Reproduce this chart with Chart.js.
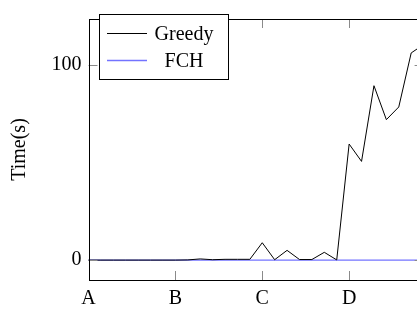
<!DOCTYPE html>
<html>
<head>
<meta charset="utf-8">
<script src="https://cdn.jsdelivr.net/npm/chart.js@4"></script>
<style>
html,body{margin:0;padding:0;background:#fff;overflow:hidden;width:417px;height:309px;}
#wrap{position:absolute;left:0;top:0;width:440px;height:309px;}
</style>
</head>
<body>
<div id="wrap"><canvas id="c" width="440" height="309"></canvas></div>
<script>
// ---- data ----
const categories = ['A', 'B', 'C', 'D'];
const pointsPerCategory = 7;
const greedy = [0, 0, 0, 0, 0, 0, 0, 0, 0.1, 0.6, 0.2, 0.4, 0.4, 0.4,
                8.9, 0.2, 5.0, 0.3, 0.3, 4.0, 0.1,
                59.5, 50.6, 89.4, 72.0, 78.5, 106.2, 110.5];
const fch = [0, 0, 0, 0, 0, 0, 0, 0, 0, 0, 0, 0, 0, 0,
             0, 0, 0, 0, 0, 0, 0,
             0, 0, 0, 0, 0, 0, 0];
const yTickValues = [0, 100];
const seriesNames = ['Greedy', 'FCH'];
const yTitle = 'Time(s)';

const labels = greedy.map((_, i) => (i % pointsPerCategory === 0 ? (categories[i / pointsPerCategory] || '') : ''));

const FONT = {family: 'Liberation Serif', size: 20};
const BLUE = '#7373ff';

const framePlugin = {
  id: 'frame',
  afterDraw(chart) {
    const {ctx, chartArea: a, scales} = chart;
    ctx.save();
    // inward ticks
    ctx.strokeStyle = '#8a8a8a';
    ctx.lineWidth = 1;
    const L = 9;
    labels.forEach((lab, i) => {
      if (!lab) return;
      const x = Math.round(scales.x.getPixelForValue(i)) + 0.5;
      ctx.beginPath();
      ctx.moveTo(x, a.bottom); ctx.lineTo(x, a.bottom - L);
      ctx.moveTo(x, a.top); ctx.lineTo(x, a.top + L);
      ctx.stroke();
    });
    yTickValues.forEach(v => {
      const y = Math.round(scales.y.getPixelForValue(v)) + 0.5;
      ctx.beginPath();
      ctx.moveTo(a.left, y); ctx.lineTo(a.left + L, y);
      ctx.moveTo(a.right, y); ctx.lineTo(a.right - L, y);
      ctx.stroke();
    });
    // frame
    ctx.strokeStyle = '#000';
    ctx.lineWidth = 1;
    ctx.strokeRect(Math.round(a.left) + 0.5, Math.round(a.top) + 0.5,
                   Math.round(a.right - a.left), Math.round(a.bottom - a.top));
    // legend
    const bx = 99.5, by = 14.5, bw = 129, bh = 65;
    ctx.fillStyle = '#fff';
    ctx.fillRect(bx, by, bw, bh);
    ctx.strokeStyle = '#000';
    ctx.strokeRect(bx, by, bw, bh);
    const items = [
      {name: seriesNames[0], color: '#000', w: 1, y: 33.5},
      {name: seriesNames[1], color: BLUE, w: 1.4, y: 60.5}
    ];
    ctx.font = '20px "Liberation Serif"';
    ctx.textAlign = 'center';
    ctx.textBaseline = 'alphabetic';
    items.forEach(it => {
      ctx.strokeStyle = it.color;
      ctx.lineWidth = it.w;
      ctx.beginPath();
      ctx.moveTo(107, it.y); ctx.lineTo(147, it.y);
      ctx.stroke();
      ctx.fillStyle = '#000';
      ctx.fillText(it.name, 184, it.y + 6.5);
    });
    ctx.restore();
  }
};

new Chart(document.getElementById('c'), {
  type: 'line',
  data: {
    labels: labels,
    datasets: [
      {label: seriesNames[0], data: greedy, borderColor: '#000', borderWidth: 1,
       pointRadius: 0, tension: 0, fill: false, order: 0},
      {label: seriesNames[1], data: fch, borderColor: BLUE, borderWidth: 1.4,
       pointRadius: 0, tension: 0, fill: false, order: 1}
    ]
  },
  options: {
    responsive: false,
    animation: false,
    events: [],
    layout: {padding: {left: 0, right: 16.4, top: 5, bottom: 0}},
    plugins: {legend: {display: false}, tooltip: {enabled: false}},
    scales: {
      x: {
        offset: false,
        grid: {display: false, drawTicks: false},
        border: {display: false},
        ticks: {autoSkip: false, maxRotation: 0, font: FONT, color: '#000', padding: 7},
        afterFit(s) { s.height = 29; }
      },
      y: {
        min: -10.2, max: 123.6,
        grid: {display: false, drawTicks: false},
        border: {display: false},
        afterBuildTicks(s) { s.ticks = yTickValues.map(v => ({value: v})); },
        ticks: {font: FONT, color: '#000', padding: 7},
        title: {display: true, text: yTitle, font: FONT, color: '#000', padding: {top: 8, bottom: 0}},
        afterFit(s) { s.width = 88.5; }
      }
    }
  },
  plugins: [framePlugin]
});
</script>
</body>
</html>
